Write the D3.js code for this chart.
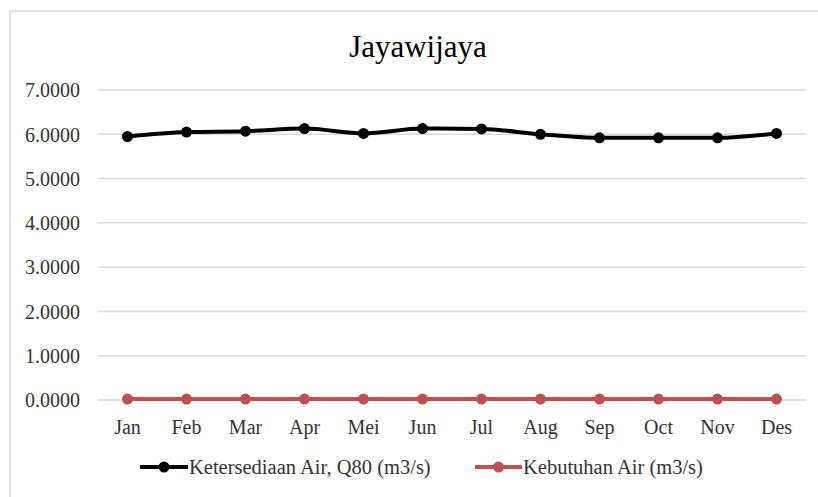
<!DOCTYPE html>
<html><head><meta charset="utf-8">
<script src="https://cdn.jsdelivr.net/npm/d3@7"></script>
<style>html,body{margin:0;padding:0;background:#fff;}svg{display:block;}</style>
</head><body>
<script>
const months = ["Jan","Feb","Mar","Apr","Mei","Jun","Jul","Aug","Sep","Oct","Nov","Des"];
const ketersediaan = [5.95,6.05,6.07,6.13,6.02,6.13,6.12,6.00,5.92,5.92,5.92,6.02];
const kebutuhan = [0.02,0.02,0.02,0.02,0.02,0.02,0.02,0.02,0.02,0.02,0.02,0.02];
const yTicks = [0,1,2,3,4,5,6,7];
const seriesNames = ["Ketersediaan Air, Q80 (m3/s)","Kebutuhan Air (m3/s)"];
const colors = ["#000000","#c0504d"];

const W=818,H=497;
const svg=d3.select("body").append("svg").attr("width",W).attr("height",H);
const font="'Liberation Serif','Times New Roman',serif";
svg.append("rect").attr("x",10).attr("y",11).attr("width",W+10).attr("height",H+10)
  .attr("fill","#fff").attr("stroke","#d9d9d9").attr("stroke-width",1.5);

const x=d3.scaleBand().domain(months).range([98,806]);
const y=d3.scaleLinear().domain([0,7]).range([400,90]);

// gridlines
svg.append("g").selectAll("line").data(yTicks).join("line")
  .attr("x1",98).attr("x2",806).attr("y1",d=>y(d)).attr("y2",d=>y(d))
  .attr("stroke","#d9d9d9").attr("stroke-width",1.5);

// y axis labels
const yAxis=d3.axisLeft(y).tickValues(yTicks).tickFormat(d3.format(".4f")).tickSize(0).tickPadding(0);
const gy=svg.append("g").attr("transform","translate(80,0)").call(yAxis);
gy.select(".domain").remove();
gy.selectAll("text").attr("font-family",font).attr("font-size",20).attr("fill","#333").attr("dy","0.34em");

// x axis labels
const xAxis=d3.axisBottom(x).tickSize(0).tickPadding(0);
const gx=svg.append("g").attr("transform","translate(0,420)").call(xAxis);
gx.select(".domain").remove();
gx.selectAll("text").attr("font-family",font).attr("font-size",20).attr("fill","#333").attr("dy","0.71em");

// title
svg.append("text").attr("x",418).attr("y",57).attr("text-anchor","middle")
  .attr("font-family",font).attr("font-size",31).attr("fill","#000").text("Jayawijaya");

const cx=d=>x(d)+x.bandwidth()/2;
const line=d3.line().x((d,i)=>cx(months[i])).y(d=>y(d)).curve(d3.curveMonotoneX);

[ketersediaan,kebutuhan].forEach((s,k)=>{
  svg.append("path").datum(s).attr("d",line).attr("fill","none")
    .attr("stroke",colors[k]).attr("stroke-width",4).attr("stroke-linejoin","round");
  svg.append("g").selectAll("circle").data(s).join("circle")
    .attr("cx",(d,i)=>cx(months[i])).attr("cy",d=>y(d)).attr("r",5.5).attr("fill",colors[k]);
});

// legend
const leg=[{x0:140,x1:188,tx:189},{x0:475,x1:522,tx:523}];
leg.forEach((L,k)=>{
  const g=svg.append("g");
  g.append("line").attr("x1",L.x0).attr("x2",L.x1).attr("y1",467).attr("y2",467)
    .attr("stroke",colors[k]).attr("stroke-width",4);
  g.append("circle").attr("cx",(L.x0+L.x1)/2).attr("cy",467).attr("r",5.5).attr("fill",colors[k]);
  g.append("text").attr("x",L.tx).attr("y",467).attr("dy","0.34em")
    .attr("font-family",font).attr("font-size",20.5).attr("fill","#333").text(seriesNames[k]);
});
</script>
</body></html>
